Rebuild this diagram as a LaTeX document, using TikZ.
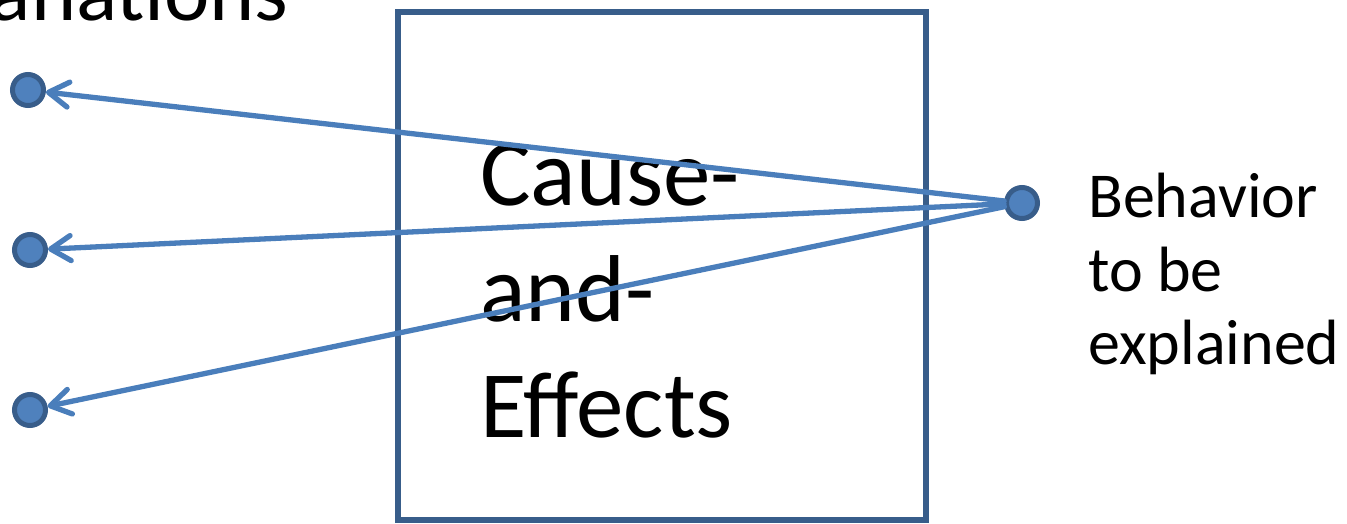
\documentclass[tikz,border=0pt]{standalone}
\usepackage{fontspec}
\setmainfont{Carlito}
\usetikzlibrary{arrows.meta}
\definecolor{linkblue}{HTML}{4A7EBB}
\definecolor{dotfill}{HTML}{4F81BD}
\definecolor{dotedge}{HTML}{385D8A}
\tikzset{
  dot/.style={circle, draw=dotedge, fill=dotfill, line width=5pt, minimum size=31pt, inner sep=0pt},
  link/.style={draw=linkblue, line width=5.3pt, line cap=round, -{Straight Barb[length=20pt,width=25pt,round]}},
  framebox/.style={draw=dotedge, line width=5.5pt},
  bigtext/.style={anchor=base west, inner sep=0pt, font=\fontsize{95}{116}\selectfont},
  sidetext/.style={anchor=base west, inner sep=0pt, font=\fontsize{64}{73}\selectfont},
}
\begin{document}
\begin{tikzpicture}[x=1pt, y=-1pt]
\useasboundingbox (0,0) rectangle (1347,523);
% frame
\draw[framebox] (398,12) rectangle (926,520);
% title (cut at top-left)
\node[anchor=base east, inner sep=0pt, font=\fontsize{86}{100}\selectfont] (title) at (289,20) {Explanations};
% box text
\node[bigtext] (c1) at (480,205) {Cause-};
\node[bigtext] (c2) at (480,321) {and-};
\node[bigtext] (c3) at (480,437) {Effects};
% dots
\node[dot] (l1) at (28,90) {};
\node[dot] (l2) at (30,250) {};
\node[dot] (l3) at (30,410) {};
\node[dot] (r) at (1022,203) {};
% side text
\node[sidetext] (s1) at (1088,217) {Behavior};
\node[sidetext] (s2) at (1088,291) {to be};
\node[sidetext] (s3) at (1088,364) {explained};
% links
\draw[link] (r) -- (l1);
\draw[link] (r) -- (l2);
\draw[link] (r) -- (l3);
\end{tikzpicture}
\end{document}
